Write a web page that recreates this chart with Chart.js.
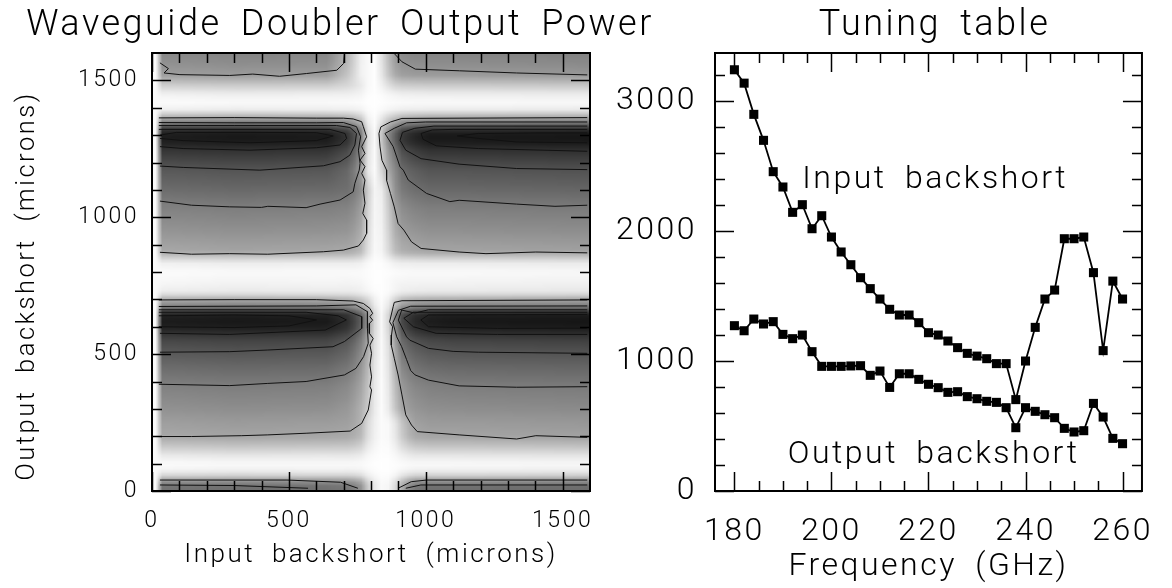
<!DOCTYPE html>
<html>
<head>
<meta charset="utf-8">
<title>Waveguide Doubler Output Power</title>
<script src="https://cdn.jsdelivr.net/npm/chart.js@4"></script>
<style>
  html, body { margin: 0; background: #fff; }
  body { width: 1172px; height: 588px; position: relative; overflow: hidden; }
  canvas { position: absolute; top: 0; }
  #powerChart { left: 0; }
  #tuningChart { left: 600px; }
</style>
</head>
<body>
<canvas id="powerChart" width="680" height="588"></canvas>
<canvas id="tuningChart" width="572" height="588"></canvas>
<script>
// ============================
// Tuning table values
// ============================
const frequency = [180,182,184,186,188,190,192,194,196,198,200,202,204,206,208,210,212,214,216,218,220,222,224,226,228,230,232,234,236,238,240,242,244,246,248,250,252,254,256,258,260];
const inputBackshort = [3241,3138,2898,2698,2457,2339,2144,2203,2018,2118,1954,1839,1741,1641,1557,1477,1398,1354,1354,1295,1218,1200,1154,1103,1059,1038,1018,980,980,703,1000,1259,1477,1546,1941,1941,1954,1680,1080,1615,1477];
const outputBackshort = [1272,1233,1323,1285,1303,1205,1172,1200,1072,959,959,959,962,964,890,923,797,902,902,859,821,795,759,764,726,710,690,682,641,487,641,613,587,564,482,454,464,674,569,405,364];

// ============================
// Output power map, grey level per input (column) and output (row) backshort
// ============================
const mapInput = [10,30,300,640,720,760,790,820,850,880,910,950,1010,1100,1590];
const mapOutput = [0,22,40,55,75,100,130,170,198,250,300,350,385,450,507,550,572,597,620,643,652,662,674,698,710,725,760,800,835,860,874,950,1038,1100,1172,1245,1272,1290,1310,1321,1333,1346,1363,1379,1395,1420,1450,1480,1520,1560,1600];
const mapGrey = [
  [240,114,110,112,117,139,207,241,255,233,175,120,110,110,107],
  [240,119,115,117,122,143,209,241,255,234,178,125,115,115,112],
  [240,159,155,157,160,175,222,245,255,240,200,162,155,155,152],
  [240,209,205,207,207,215,238,250,255,248,228,208,205,205,202],
  [245,244,240,242,241,243,250,254,255,253,247,241,240,240,238],
  [250,252,250,250,250,251,253,255,255,254,252,250,250,250,248],
  [242,234,230,232,231,235,247,252,255,251,241,232,230,230,228],
  [240,194,190,192,193,203,234,248,255,245,219,195,190,190,187],
  [240,169,165,167,170,183,225,246,255,241,205,171,165,165,162],
  [240,159,155,157,160,175,222,245,255,240,200,162,155,155,152],
  [240,146,142,144,153,174,204,245,255,208,167,151,144,142,139],
  [240,136,132,134,144,166,200,245,255,203,159,142,134,132,129],
  [240,129,125,127,138,161,196,245,255,200,154,135,128,125,122],
  [240,109,105,107,120,147,187,243,255,192,138,117,108,105,102],
  [240,89,85,87,102,133,178,241,255,184,122,99,88,85,82],
  [240,72,68,70,87,120,171,240,255,176,109,83,72,68,65],
  [240,54,50,52,71,107,163,239,255,169,95,66,54,50,47],
  [240,34,30,32,52,93,154,237,255,160,80,48,34,30,27],
  [240,28,24,26,47,89,151,237,255,158,75,42,29,24,22],
  [240,34,30,32,52,93,154,237,255,160,80,48,34,30,27],
  [240,54,50,52,71,107,163,239,255,169,95,66,54,50,47],
  [240,89,85,87,102,133,178,241,255,184,122,99,88,85,82],
  [240,129,125,127,138,161,196,245,255,200,154,135,128,125,122],
  [240,169,165,167,174,190,215,248,255,217,185,172,167,165,162],
  [240,199,195,197,201,212,228,250,255,230,208,200,196,195,192],
  [242,236,232,234,234,238,245,253,255,245,237,234,232,232,230],
  [246,247,243,245,244,245,251,255,253,247,244,244,243,243,241],
  [250,252,250,250,250,251,253,255,254,252,251,250,250,250,248],
  [242,239,235,237,236,239,249,255,251,241,237,236,235,235,233],
  [240,194,190,192,193,203,235,255,242,211,198,193,190,190,187],
  [240,169,165,167,170,183,228,255,237,194,176,170,165,165,162],
  [240,149,145,147,150,167,222,255,233,180,158,150,145,145,142],
  [240,129,125,127,131,151,216,255,229,167,141,131,125,125,122],
  [240,109,105,107,112,135,210,255,225,153,123,112,105,105,102],
  [240,89,85,87,105,150,238,255,184,146,109,95,85,85,82],
  [240,54,50,52,75,128,234,255,169,124,79,62,50,50,47],
  [240,34,30,32,57,115,232,255,160,111,61,44,30,30,27],
  [240,28,24,26,52,112,232,255,158,107,56,38,24,24,22],
  [240,34,30,32,57,115,232,255,160,111,61,44,30,30,27],
  [240,54,50,52,75,128,234,255,169,124,79,62,50,50,47],
  [240,89,85,87,105,150,238,255,184,146,109,95,85,85,82],
  [240,129,125,127,141,174,242,255,200,172,143,133,125,125,122],
  [240,169,165,167,176,199,246,255,217,197,178,170,165,165,162],
  [240,209,205,207,211,224,250,255,234,223,212,208,205,205,202],
  [244,242,238,240,240,244,253,255,248,244,240,239,238,238,236],
  [250,252,250,250,251,252,255,255,253,252,251,250,250,250,248],
  [244,242,238,240,240,244,253,255,248,244,240,239,238,238,236],
  [240,209,205,207,218,232,250,255,234,215,208,206,205,205,202],
  [240,159,155,157,200,240,250,255,215,175,160,156,155,155,152],
  [240,146,142,144,190,240,250,255,210,165,148,143,142,142,139],
  [240,136,132,134,185,238,250,255,205,160,138,133,132,132,129]
];

// ============================
// Contour lines, [input, output]
// ============================
const contourTopLeft = [[29,1564],[60,1543],[44,1527],[102,1521],[284,1518],[368,1523],[466,1515],[564,1525],[675,1537],[700,1562],[703,1600]];
const contourTopRight = [[885,1598],[913,1568],[962,1541],[1123,1535],[1332,1527],[1590,1520]];
const contourBottomLeftA = [[29,40],[493,40],[689,32],[752,10]];
const contourBottomLeftB = [[29,22],[300,20],[570,10]];
const contourBottomRightA = [[899,10],[947,34],[1003,40],[1590,40]];
const contourBottomRightB = [[927,10],[982,22],[1590,22]];
// upper band, left of the notch
const contourUL155 = [[25,1363],[300,1364],[600,1362],[699,1362],[735,1359],[766,1349],[772,1331],[784,1294],[766,1258],[778,1233],[760,1209],[778,1185],[766,1160],[778,1136],[772,1099],[778,1051],[770,1014],[784,990],[784,941],[772,917],[754,895],[699,880],[626,874],[423,865],[284,867],[144,865],[29,872]];
const contourUL115 = [[25,1346],[300,1345],[600,1345],[699,1346],[747,1331],[762,1294],[754,1245],[760,1197],[757,1172],[741,1124],[735,1093],[687,1063],[614,1048],[563,1035],[423,1040],[400,1036],[284,1038],[144,1044],[29,1059]];
const contourUL75 = [[25,1335],[300,1335],[674,1335],[723,1328],[747,1306],[741,1264],[723,1227],[687,1203],[626,1188],[394,1172],[114,1182],[29,1187]];
const contourUL50 = [[25,1321],[358,1321],[650,1321],[705,1306],[711,1288],[687,1264],[601,1254],[358,1245],[114,1251],[29,1258]];
const contourUL30 = [[29,1300],[90,1310],[358,1310],[601,1309],[662,1297],[601,1280],[358,1272],[114,1280],[29,1288]];
// upper band, right of the notch
const contourUR155 = [[1590,1364],[913,1361],[871,1348],[836,1330],[829,1306],[833,1257],[840,1208],[857,1172],[857,1135],[871,1087],[885,1038],[899,977],[920,953],[948,910],[983,886],[1122,873],[1220,867],[1402,873],[1590,870]];
const contourUR115 = [[1590,1348],[1000,1348],[930,1345],[885,1325],[851,1306],[881,1258],[906,1184],[918,1172],[936,1136],[1003,1087],[1088,1057],[1122,1062],[1332,1048],[1472,1040],[1590,1044]];
const contourUR75 = [[1590,1333],[1030,1333],[960,1325],[915,1310],[906,1281],[927,1245],[983,1214],[1122,1194],[1332,1178],[1590,1174]];
const contourUR50 = [[1590,1321],[1100,1321],[1024,1319],[983,1306],[990,1285],[1038,1261],[1192,1251],[1590,1241]];
const contourUR30 = [[1590,1308],[1402,1308],[1192,1306],[1115,1297],[1192,1288],[1332,1275],[1590,1272]];
// lower band, left of the notch
const contourLL155 = [[25,698],[300,699],[600,699],[735,694],[772,685],[796,667],[806,649],[796,637],[806,624],[794,612],[794,576],[808,557],[796,533],[802,503],[796,460],[802,417],[796,381],[802,369],[796,332],[790,296],[766,247],[724,219],[563,211],[423,205],[326,202],[144,199],[25,199]];
const contourLL115 = [[25,674],[600,676],[745,680],[787,655],[787,594],[790,540],[773,491],[745,448],[703,424],[563,400],[423,393],[284,385],[25,390]];
const contourLL75 = [[25,662],[700,662],[766,637],[766,594],[703,546],[661,527],[423,515],[284,509],[29,507]];
const contourLL50 = [[25,653],[563,653],[680,640],[710,625],[633,588],[284,572],[29,576]];
const contourLL30 = [[25,640],[300,643],[500,640],[601,625],[500,603],[300,597],[25,600]];
// lower band, right of the notch
const contourLR155 = [[1590,698],[913,695],[885,689],[881,673],[868,618],[879,600],[875,570],[874,533],[885,485],[899,424],[913,351],[927,278],[948,241],[969,217],[1122,205],[1332,190],[1402,202],[1590,196]];
const contourLR115 = [[1590,676],[945,675],[900,660],[880,615],[894,563],[912,527],[930,480],[945,440],[961,424],[1010,405],[1122,384],[1332,379],[1590,381]];
const contourLR75 = [[1590,662],[1010,662],[960,650],[912,661],[900,624],[930,563],[942,551],[1010,521],[1100,510],[1192,507],[1590,503]];
const contourLR50 = [[1590,653],[955,653],[920,631],[955,600],[1038,576],[1262,572],[1590,572]];
const contourLR30 = [[1590,645],[1010,643],[982,625],[1010,600],[1262,594],[1590,595]];

const contourLines = [
  contourTopLeft, contourTopRight, contourBottomLeftA, contourBottomLeftB, contourBottomRightA, contourBottomRightB,
  contourUL155, contourUL115, contourUL75, contourUL50, contourUL30,
  contourUR155, contourUR115, contourUR75, contourUR50, contourUR30,
  contourLL155, contourLL115, contourLL75, contourLL50, contourLL30,
  contourLR155, contourLR115, contourLR75, contourLR50, contourLR30
];

// ============================
// Tick positions and labels
// ============================
const powerMajorX = [0,500,1000,1500];
const powerMinorX = [100,200,300,400,600,700,800,900,1100,1200,1300,1400];
const powerMajorY = [0,500,1000,1500];
const powerMinorY = [100,200,300,400,600,700,800,900,1100,1200,1300,1400];
const tuningMajorX = [180,200,220,240,260];
const tuningMinorX = [185,190,195,205,210,215,225,230,235,245,250,255];
const tuningMajorY = [0,1000,2000,3000];
const tuningMinorY = [200,400,600,800,1200,1400,1600,1800,2200,2400,2600,2800,3200];

const textFont = "Roboto";
const textWeight = 300;

// ============================
// Small helpers
// ============================
function bracket(list, v) {
  let i = 0;
  while (i < list.length - 2 && list[i + 1] <= v) i++;
  const t = Math.max(0, Math.min(1, (v - list[i]) / (list[i + 1] - list[i])));
  return [i, t];
}

function greyAt(input, output) {
  if (input < 15) return 250;
  const [c, tc] = bracket(mapInput, input);
  const [r, tr] = bracket(mapOutput, output);
  const a = mapGrey[r][c] * (1 - tc) + mapGrey[r][c + 1] * tc;
  const b = mapGrey[r + 1][c] * (1 - tc) + mapGrey[r + 1][c + 1] * tc;
  return a * (1 - tr) + b * tr;
}

// Text spacing stays wide like the plotter font
const wideText = (letter, word) => ({
  id: "wideText",
  beforeDraw(chart) {
    chart.ctx.letterSpacing = letter;
    chart.ctx.wordSpacing = word;
  }
});

// Title centre is not the canvas centre
const moveTitle = (left, right) => ({
  id: "moveTitle",
  afterLayout(chart) {
    chart.titleBlock.left = left;
    chart.titleBlock.right = right;
  }
});

// Inward ticks on all four sides plus the frame
function frameTicks(majorX, minorX, majorY, minorY) {
  return {
    id: "frameTicks",
    afterDatasetsDraw(chart) {
      const { ctx, chartArea: a, scales: { x, y } } = chart;
      ctx.save();
      ctx.strokeStyle = "#000";
      ctx.lineWidth = 1.5;
      ctx.beginPath();
      const tickX = (v, len) => {
        const p = Math.round(x.getPixelForValue(v)) + 0.5;
        ctx.moveTo(p, a.bottom); ctx.lineTo(p, a.bottom - len);
        ctx.moveTo(p, a.top); ctx.lineTo(p, a.top + len);
      };
      const tickY = (v, len) => {
        const p = Math.round(y.getPixelForValue(v)) + 0.5;
        ctx.moveTo(a.left, p); ctx.lineTo(a.left + len, p);
        ctx.moveTo(a.right, p); ctx.lineTo(a.right - len, p);
      };
      majorX.forEach(v => tickX(v, 19));
      minorX.forEach(v => tickX(v, 10));
      majorY.forEach(v => tickY(v, 19));
      minorY.forEach(v => tickY(v, 10));
      ctx.stroke();
      ctx.lineWidth = 2;
      ctx.strokeRect(a.left, a.top, a.right - a.left, a.bottom - a.top);
      ctx.restore();
    }
  };
}

// Grey map drawn under the contours, one cell is 25 x 12.5 microns
const greyMap = {
  id: "greyMap",
  beforeDatasetsDraw(chart) {
    const { ctx, scales: { x, y } } = chart;
    const cols = 64, rows = 128;
    const off = document.createElement("canvas");
    off.width = cols; off.height = rows;
    const octx = off.getContext("2d");
    const img = octx.createImageData(cols, rows);
    for (let r = 0; r < rows; r++) {
      for (let c = 0; c < cols; c++) {
        const g = greyAt((c + 0.5) * 25, 1600 - (r + 0.5) * 12.5);
        const i = (r * cols + c) * 4;
        img.data[i] = img.data[i + 1] = img.data[i + 2] = g;
        img.data[i + 3] = 255;
      }
    }
    octx.putImageData(img, 0, 0);
    const left = x.getPixelForValue(0), right = x.getPixelForValue(1600);
    const top = y.getPixelForValue(1600), bottom = y.getPixelForValue(0);
    ctx.save();
    ctx.imageSmoothingEnabled = true;
    ctx.drawImage(off, left, top, right - left, bottom - top);
    ctx.restore();
  }
};

// Output axis name sits below the middle of its axis
const sideTitle = {
  id: "sideTitle",
  afterDraw(chart) {
    const { ctx } = chart;
    ctx.save();
    ctx.font = `${textWeight} 25.5px ${textFont}`;
    ctx.fillStyle = "#000";
    ctx.textAlign = "center";
    ctx.textBaseline = "middle";
    ctx.translate(28, 286);
    ctx.rotate(-Math.PI / 2);
    ctx.fillText("Output backshort (microns)", 0, 0);
    ctx.restore();
  }
};

// Curve names inside the tuning plot
const curveNames = {
  id: "curveNames",
  afterDatasetsDraw(chart) {
    const { ctx, scales: { x, y } } = chart;
    ctx.save();
    ctx.font = `${textWeight} 32px ${textFont}`;
    ctx.fillStyle = "#000";
    ctx.textAlign = "left";
    ctx.textBaseline = "middle";
    ctx.fillText("Input backshort", x.getPixelForValue(194), y.getPixelForValue(2393));
    ctx.fillText("Output backshort", x.getPixelForValue(191), y.getPixelForValue(277));
    ctx.restore();
  }
};

function axisOptions(min, max, ticks, labelSize, titleText, titleSize, padding, fixed) {
  return {
    type: "linear",
    min, max,
    grid: { display: false, drawTicks: false },
    border: { display: false },
    afterBuildTicks: scale => { scale.ticks = ticks.map(v => ({ value: v })); },
    afterFit: fixed,
    ticks: {
      color: "#000",
      padding,
      autoSkip: false,
      maxRotation: 0,
      font: { family: textFont, size: labelSize, weight: textWeight },
      callback: v => String(v)
    },
    title: titleText ? {
      display: true,
      text: titleText,
      color: "#000",
      font: { family: textFont, size: titleSize, weight: textWeight },
      padding: { top: 0, bottom: 0 }
    } : { display: false }
  };
}

// ============================
// Left plot: output power map
// ============================
new Chart(document.getElementById("powerChart"), {
  type: "scatter",
  data: {
    datasets: contourLines.map(line => ({
      data: line,
      showLine: true,
      borderColor: "#111",
      borderWidth: 1,
      pointRadius: 0,
      tension: 0
    }))
  },
  options: {
    responsive: false,
    animation: false,
    layout: { padding: { left: 6, right: 90, top: 0, bottom: 17 } },
    scales: {
      x: axisOptions(0, 1600, powerMajorX, 23, "Input backshort (microns)", 26, 16, s => { s.height = 80; }),
      y: axisOptions(0, 1600, powerMajorY, 23, "", 0, 13, s => { s.width = 146; })
    },
    plugins: {
      legend: { display: false },
      tooltip: { enabled: false },
      title: {
        display: true,
        text: "Waveguide Doubler Output Power",
        color: "#000",
        font: { family: textFont, size: 36, weight: textWeight, lineHeight: 1.2 },
        padding: { top: 4, bottom: 5.8 }
      }
    }
  },
  plugins: [wideText("2.5px", "8px"), moveTitle(10, 670), greyMap, frameTicks(powerMajorX, powerMinorX, powerMajorY, powerMinorY), sideTitle]
});

// ============================
// Right plot: tuning table
// ============================
const pairs = values => frequency.map((f, i) => ({ x: f, y: values[i] }));
const curve = values => ({
  data: pairs(values),
  showLine: true,
  borderColor: "#000",
  borderWidth: 1.8,
  pointStyle: "rect",
  pointRadius: 6.4,
  pointBackgroundColor: "#000",
  pointBorderWidth: 0,
  tension: 0
});

new Chart(document.getElementById("tuningChart"), {
  type: "scatter",
  data: { datasets: [curve(inputBackshort), curve(outputBackshort)] },
  options: {
    responsive: false,
    animation: false,
    layout: { padding: { left: 0, right: 18, top: 0, bottom: 2 } },
    scales: {
      x: axisOptions(176, 264, tuningMajorX, 32, "Frequency (GHz)", 32, 22, s => { s.height = 95; }),
      y: axisOptions(0, 3370, tuningMajorY, 32, "", 0, 18, s => { s.width = 115; })
    },
    plugins: {
      legend: { display: false },
      tooltip: { enabled: false },
      title: {
        display: true,
        text: "Tuning table",
        color: "#000",
        font: { family: textFont, size: 36, weight: textWeight, lineHeight: 1.2 },
        padding: { top: 4, bottom: 5.8 }
      }
    }
  },
  plugins: [wideText("2.5px", "8px"), moveTitle(115, 554), frameTicks(tuningMajorX, tuningMinorX, tuningMajorY, tuningMinorY), curveNames]
});
</script>
</body>
</html>
